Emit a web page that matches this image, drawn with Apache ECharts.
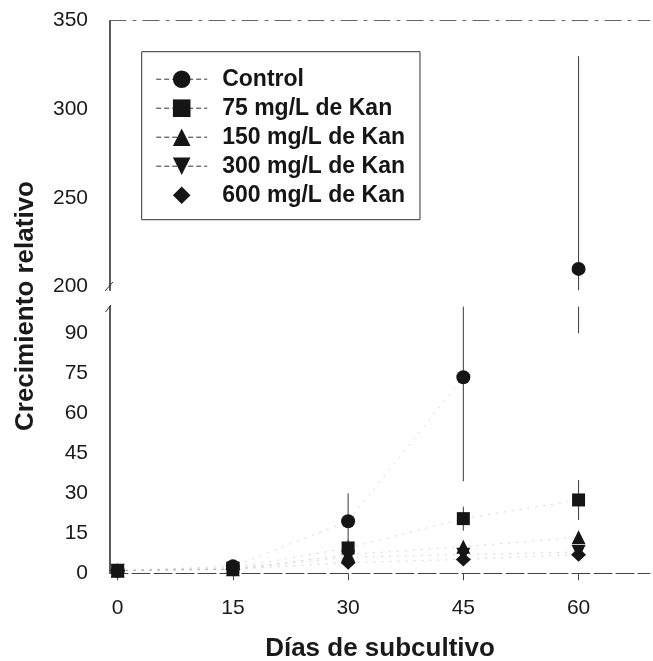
<!DOCTYPE html>
<html>
<head>
<meta charset="utf-8">
<script src="https://cdn.jsdelivr.net/npm/echarts@6/dist/echarts.min.js"></script>
<style>
html,body{margin:0;padding:0;background:#fff;}
#chart{width:653px;height:661px;}
</style>
</head>
<body>
<div id="chart"></div>
<script>
// ---- data ----
const days = [0, 15, 30, 45, 60];
const seriesNames = ['Control', '75 mg/L de Kan', '150 mg/L de Kan', '300 mg/L de Kan', '600 mg/L de Kan'];
const control = [1, 2.6, 19.5, 73.5, 210];
const kan75 = [1, 2, 9.5, 20.5, 27.5];
const kan150 = [1, 1.5, 7, 10, 13.5];
const kan300 = [1, 1.5, 6, 7, 8];
const kan600 = [1, 1.5, 4, 5.2, 7];
const controlErr = [0.5, 1, 10.5, 39, 120];
const kan75Err = [0.3, 0.5, 3, 4.5, 7.5];
const kan150Err = [0.3, 0.5, 1.5, 2, 2];
const kan300Err = [0.3, 0.3, 1, 1.5, 1.5];
const kan600Err = [0.3, 0.3, 1, 1, 1];
const xTicks = [0, 15, 30, 45, 60];
const yTicksLow = [0, 15, 30, 45, 60, 75, 90];
const yTicksHigh = [200, 250, 300, 350];
const xTitle = 'Días de subcultivo';
const yTitle = 'Crecimiento relativo';

// ---- layout ----
const FONT = '"Liberation Sans", Arial, sans-serif';
const LOW = {min: 0, max: 100};
const HIGH = {min: 198, max: 350};
const values = [control, kan75, kan150, kan300, kan600];
const errs = [controlErr, kan75Err, kan150Err, kan300Err, kan600Err];
const symbols = ['circle', 'rect', 'triangle', 'triangle', 'diamond'];
const rotates = [0, 0, 0, 180, 0];
const sizes = [14, 13, 14, 14, [15, 14]];
const INK = '#151515';

const chart = echarts.init(document.getElementById('chart'));

function errSeries(idx, gridIdx, range) {
  const data = days.map((d, i) => [d, values[idx][i] - errs[idx][i], values[idx][i] + errs[idx][i]]);
  return {
    type: 'custom',
    name: 'err' + idx + '_' + gridIdx,
    xAxisIndex: gridIdx, yAxisIndex: gridIdx,
    z: 1,
    silent: true,
    data: data,
    renderItem: function (params, api) {
      const x = api.value(0);
      const lo = Math.max(api.value(1), range.min);
      const hi = Math.min(api.value(2), range.max);
      if (!(hi > lo)) return null;
      const p1 = api.coord([x, lo]);
      const p2 = api.coord([x, hi]);
      return {type: 'line', shape: {x1: p1[0], y1: p1[1], x2: p2[0], y2: p2[1]},
        style: {stroke: '#3a3a3a', lineWidth: 1}};
    }
  };
}

const lineStyleFaint = {color: '#888', width: 1, type: [2, 6], opacity: 0.35};
const series = [];
// lower grid point series
values.forEach((vals, idx) => {
  series.push({
    type: 'line', name: seriesNames[idx],
    xAxisIndex: 1, yAxisIndex: 1,
    data: days.map((d, i) => [d, vals[i]]).filter(p => p[1] <= LOW.max),
    symbol: symbols[idx], symbolRotate: rotates[idx], symbolSize: sizes[idx],
    itemStyle: {color: INK},
    lineStyle: lineStyleFaint,
    z: 3, clip: true
  });
});
// upper grid point series (only values in upper range)
values.forEach((vals, idx) => {
  const pts = days.map((d, i) => [d, vals[i]]).filter(p => p[1] >= HIGH.min);
  if (!pts.length) return;
  series.push({
    type: 'line', name: seriesNames[idx],
    xAxisIndex: 0, yAxisIndex: 0,
    data: pts,
    symbol: symbols[idx], symbolRotate: rotates[idx], symbolSize: sizes[idx],
    itemStyle: {color: INK},
    lineStyle: lineStyleFaint,
    z: 3
  });
});
values.forEach((vals, idx) => {
  series.push(errSeries(idx, 1, LOW));
  series.push(errSeries(idx, 0, HIGH));
});

const axisLabelStyle = {fontFamily: FONT, fontSize: 21, color: '#1a1a1a'};

const option = {
  animation: false,
  backgroundColor: '#fff',
  grid: [
    {left: 110, width: 540, top: 20.7, height: 269.5, outerBoundsMode: 'none', containLabel: false},
    {left: 110, width: 540, top: 306.6, height: 266.7, outerBoundsMode: 'none', containLabel: false}
  ],
  xAxis: [
    {gridIndex: 0, type: 'value', min: -1, max: 69.3, position: 'top',
      axisLine: {show: true, lineStyle: {color: '#666', width: 1, type: [16, 7, 3, 7]}},
      axisTick: {show: false}, axisLabel: {show: false}, splitLine: {show: false}},
    {gridIndex: 1, type: 'value', min: -1, max: 69.3, position: 'bottom',
      axisLine: {show: true, onZero: false, lineStyle: {color: '#444', width: 1, type: [18, 4]}},
      axisTick: {show: true, length: 7, inside: false, customValues: xTicks, lineStyle: {color: '#444'}},
      axisLabel: Object.assign({margin: 24, customValues: xTicks}, axisLabelStyle),
      splitLine: {show: false},
      name: xTitle, nameLocation: 'middle', nameGap: 63,
      nameTextStyle: {fontFamily: FONT, fontSize: 26, fontWeight: 'bold', color: '#1a1a1a'}}
  ],
  yAxis: [
    {gridIndex: 0, type: 'value', min: HIGH.min, max: HIGH.max,
      axisLine: {show: true, onZero: false, lineStyle: {color: '#222', width: 1.5}},
      axisTick: {show: false},
      axisLabel: Object.assign({margin: 22, customValues: yTicksHigh}, axisLabelStyle),
      splitLine: {show: false}},
    {gridIndex: 1, type: 'value', min: LOW.min, max: LOW.max,
      axisLine: {show: true, onZero: false, lineStyle: {color: '#222', width: 1.5}},
      axisTick: {show: false},
      axisLabel: Object.assign({margin: 22, customValues: yTicksLow}, axisLabelStyle),
      splitLine: {show: false}}
  ],
  legend: {
    orient: 'vertical',
    left: 141.7, top: 51.7,
    padding: [16, 15, 13, 14],
    itemWidth: 51, itemHeight: 22, itemGap: 6,
    borderColor: '#333', borderWidth: 1,
    backgroundColor: '#fff',
    selectedMode: false,
    lineStyle: {color: '#333', width: 1, type: [5, 3], opacity: 1},
    textStyle: {fontFamily: FONT, fontSize: 23, fontWeight: 'bold', color: '#151515', padding: [0, 0, 0, 10]},
    data: seriesNames.map((n, i) => i === 4 ? {name: n, lineStyle: {opacity: 0}} : {name: n})
  },
  graphic: [
    {type: 'text', x: 26, y: 306, rotation: Math.PI / 2,
      style: {text: yTitle, font: 'bold 26px ' + FONT, fill: '#1a1a1a', align: 'center', verticalAlign: 'middle'}},
    {type: 'line', shape: {x1: 105, y1: 291, x2: 113, y2: 282}, style: {stroke: '#333', lineWidth: 1}},
    {type: 'line', shape: {x1: 105.5, y1: 312, x2: 111, y2: 305}, style: {stroke: '#333', lineWidth: 1}}
  ],
  series: series
};
chart.setOption(option);
</script>
</body>
</html>
